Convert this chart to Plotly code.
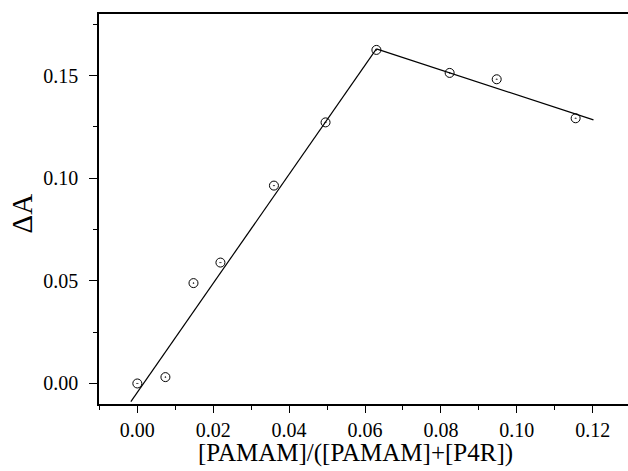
import plotly.graph_objects as go

# Data
x_vals = [0.0, 0.0074, 0.0148, 0.0219, 0.0360, 0.0496, 0.0630, 0.0823, 0.0947, 0.1155]
y_vals = [0.0, 0.0031, 0.0489, 0.0589, 0.0964, 0.1272, 0.1625, 0.1513, 0.1482, 0.1292]

# Linear fit segments (endpoints)
fit1_x = [-0.0017, 0.0630]
fit1_y = [-0.0088, 0.1630]
fit2_x = [0.0630, 0.1202]
fit2_y = [0.1630, 0.1284]

x_title = "[PAMAM]/([PAMAM]+[P4R])"
y_title = "ΔA"

font_family = "Liberation Serif, Times New Roman, serif"

fig = go.Figure()
fig.add_trace(go.Scatter(x=fit1_x, y=fit1_y, mode="lines",
                         line=dict(color="black", width=1.2), showlegend=False))
fig.add_trace(go.Scatter(x=fit2_x, y=fit2_y, mode="lines",
                         line=dict(color="black", width=1.2), showlegend=False))
fig.add_trace(go.Scatter(x=x_vals, y=y_vals, mode="markers",
                         marker=dict(symbol="circle-open-dot", size=9, color="black",
                                     line=dict(color="black", width=1)),
                         showlegend=False))

fig.update_layout(
    width=628, height=471,
    margin=dict(l=99, r=0, t=14, b=67),
    paper_bgcolor="white", plot_bgcolor="white",
    font=dict(family=font_family, color="black", size=20),
)
fig.update_xaxes(
    range=[-0.0101, 0.1293],
    tick0=0, dtick=0.02, tickformat=".2f",
    ticks="outside", ticklen=7, tickwidth=1.2, tickcolor="black",
    minor=dict(dtick=0.01, ticks="outside", ticklen=4, tickwidth=1.2, tickcolor="black"),
    showline=True, linecolor="black", linewidth=1.5, mirror=True,
    showgrid=False, zeroline=False,
    tickfont=dict(size=20, family=font_family),
)
fig.update_yaxes(
    range=[-0.01, 0.18],
    tick0=0, dtick=0.05, tickformat=".2f",
    ticks="outside", ticklen=8, tickwidth=1.2, tickcolor="black",
    ticklabelstandoff=7,
    minor=dict(dtick=0.025, ticks="outside", ticklen=4, tickwidth=1.2, tickcolor="black"),
    showline=True, linecolor="black", linewidth=1.5, mirror=False,
    showgrid=False, zeroline=False,
    tickfont=dict(size=20, family=font_family),
)

# Axis titles as annotations for exact placement
fig.add_annotation(text=x_title, xref="paper", yref="paper",
                   x=(355 - 99) / 529, y=-(453 - 404) / 390,
                   xanchor="center", yanchor="middle", showarrow=False,
                   font=dict(size=25, family=font_family, color="black"))
fig.add_annotation(text=y_title, xref="paper", yref="paper",
                   x=-(99 - 21.5) / 529, y=(404 - 214) / 390,
                   xanchor="center", yanchor="middle", showarrow=False, textangle=-90,
                   font=dict(size=29, family=font_family, color="black"))

fig.write_html("out.html")
